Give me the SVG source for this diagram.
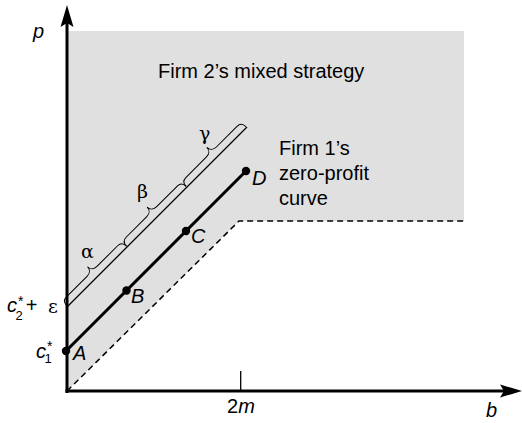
<svg xmlns="http://www.w3.org/2000/svg" xmlns:xlink="http://www.w3.org/1999/xlink" width="522" height="423" viewBox="0 0 522 423">
<style>
.lbl{font-family:"Liberation Sans",Arial,sans-serif;font-size:20px;fill:#000}
.it{font-style:italic}
.gr{font-family:"DejaVu Serif","Liberation Serif",serif;font-size:19px;fill:#000}
.sm{font-size:14px}
.axis{stroke:#000;stroke-width:3;fill:none}
.thin{stroke:#000;stroke-width:1.3;fill:none}
.thick{stroke:#000;stroke-width:3;fill:none}
.dash{stroke:#000;stroke-width:1.5;fill:none;stroke-dasharray:6 4}
.brace{stroke:#000;stroke-width:1;fill:none}
</style>
<defs>
<path id="brace" class="brace" d="M0,-1 C0,-6 2,-7.5 6,-7.5 L35.2,-7.5 C39.2,-7.5 42.2,-10 42.2,-14 C42.2,-10 45.2,-7.5 49.2,-7.5 L78.4,-7.5 C82.4,-7.5 84.4,-6 84.4,-1"/>
</defs>
<g id="region">
<polygon points="67,31 464,31 464,221 239,221 67,391" fill="#e0e0e0"/>
</g>
<g id="connectors">
<path class="dash" d="M67,391 L239,221 L464,221"/>
<line class="thin" x1="67" y1="307" x2="247" y2="127"/>
<line class="thick" x1="66" y1="351" x2="246" y2="171"/>
<use xlink:href="#brace" href="#brace" transform="translate(67.5,306.5) rotate(-45)"/>
<use xlink:href="#brace" href="#brace" transform="translate(127.2,246.8) rotate(-45)"/>
<use xlink:href="#brace" href="#brace" transform="translate(186.9,187.1) rotate(-45)"/>
</g>
<g id="axes">
<line class="axis" x1="67" y1="393" x2="67" y2="22"/>
<polygon points="67,5 73.5,27 67,23 60.5,27" fill="#000"/>
<line class="axis" x1="65.5" y1="391" x2="505" y2="391"/>
<polygon points="522,391 500,384.5 504,391 500,397.5" fill="#000"/>
<line x1="240.7" y1="371" x2="240.7" y2="391" stroke="#000" stroke-width="1.3"/>
<text class="lbl it" x="33" y="38">p</text>
<text class="lbl it" x="486" y="417">b</text>
<text class="lbl" x="227" y="413">2<tspan class="it">m</tspan></text>
</g>
<g id="labels-axis">
<text class="lbl" x="7" y="312"><tspan class="it">c</tspan><tspan font-size="14" dx="1" dy="-6">*</tspan><tspan font-size="13" dx="-8" dy="14">2</tspan><tspan dx="3" dy="-8">+</tspan></text>
<text class="gr" x="48" y="313" font-size="21">ε</text>
<text class="lbl" x="36" y="358"><tspan class="it">c</tspan><tspan font-size="14" dx="1" dy="-7">*</tspan><tspan font-size="13" dx="-8" dy="12">1</tspan></text>
</g>
<g id="nodeA"><circle cx="66" cy="351" r="4.2"/><text class="lbl it" x="73" y="360">A</text></g>
<g id="nodeB"><circle cx="126.5" cy="290.5" r="4.2"/><text class="lbl it" x="131" y="303">B</text></g>
<g id="nodeC"><circle cx="186" cy="231" r="4.2"/><text class="lbl it" x="191" y="243">C</text></g>
<g id="nodeD"><circle cx="246" cy="171" r="4.2"/><text class="lbl it" x="252" y="185">D</text></g>
<g id="greek">
<text class="gr" x="81" y="258" font-size="21">α</text>
<text class="gr" x="137" y="198" font-size="21">β</text>
<text class="gr" x="199" y="140" font-size="21">γ</text>
</g>
<g id="title"><text class="lbl" x="158" y="78" font-size="20.5">Firm 2’s mixed strategy</text></g>
<g id="curve-label">
<text class="lbl" x="279" y="155">Firm 1’s</text>
<text class="lbl" x="279" y="180">zero-profit</text>
<text class="lbl" x="279" y="205">curve</text>
</g>
</svg>
